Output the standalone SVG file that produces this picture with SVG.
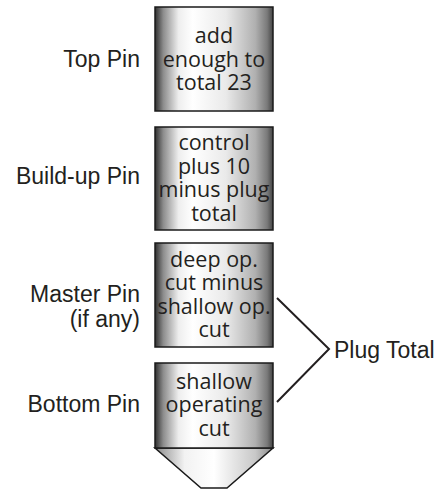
<svg xmlns="http://www.w3.org/2000/svg" width="440" height="489" viewBox="0 0 440 489">
<defs>
<linearGradient id="cyl" x1="0" y1="0" x2="1" y2="0">
<stop offset="0" stop-color="#2e2e2e"/>
<stop offset="0.07" stop-color="#8c8c8c"/>
<stop offset="0.2" stop-color="#eeeeee"/>
<stop offset="0.32" stop-color="#ffffff"/>
<stop offset="0.6" stop-color="#eaeaea"/>
<stop offset="0.85" stop-color="#b0b0b0"/>
<stop offset="0.95" stop-color="#7a7a7a"/>
<stop offset="1" stop-color="#444444"/>
</linearGradient>
<linearGradient id="cone" x1="0" y1="0" x2="1" y2="0">
<stop offset="0" stop-color="#8a8a8a"/>
<stop offset="0.25" stop-color="#f2f2f2"/>
<stop offset="0.5" stop-color="#ffffff"/>
<stop offset="0.85" stop-color="#c8c8c8"/>
<stop offset="1" stop-color="#8a8a8a"/>
</linearGradient>
</defs>
<style>
.pin{fill:url(#cyl);stroke:#1a1a1a;stroke-width:1.5}
.bt{font-family:"Open Sans","Noto Sans",sans-serif;font-size:21.5px;fill:#231f20;text-anchor:middle}
.lb{font-family:"Liberation Sans",Arial,sans-serif;font-size:23px;fill:#231f20;text-anchor:end}
.ln{stroke:#231f20;stroke-width:2;fill:none}
</style>
<g id="top-pin">
<rect class="pin" x="155" y="7" width="118" height="104"/>
<text class="bt" x="214" y="43">add</text>
<text class="bt" x="214" y="66.5">enough to</text>
<text class="bt" x="214" y="90">total 23</text>
<text class="lb" x="140" y="66.7">Top Pin</text>
</g>
<g id="buildup-pin">
<rect class="pin" x="155" y="127" width="118" height="103"/>
<text class="bt" x="214" y="150">control</text>
<text class="bt" x="214" y="173.5">plus 10</text>
<text class="bt" x="214" y="197">minus plug</text>
<text class="bt" x="214" y="220.5">total</text>
<text class="lb" x="140" y="184">Build-up Pin</text>
</g>
<g id="master-pin">
<rect class="pin" x="155" y="243" width="118" height="104"/>
<text class="bt" x="214" y="266.5">deep op.</text>
<text class="bt" x="214" y="290">cut minus</text>
<text class="bt" x="214" y="313.5">shallow op.</text>
<text class="bt" x="214" y="337">cut</text>
<text class="lb" x="140" y="302">Master Pin</text>
<text class="lb" x="140" y="326.5">(if any)</text>
</g>
<g id="bottom-pin">
<polygon points="155,448 273,448 227,488 201,488" fill="url(#cone)" stroke="#1a1a1a" stroke-width="1.5"/>
<rect class="pin" x="155" y="363" width="118" height="85"/>
<text class="bt" x="214" y="388.5">shallow</text>
<text class="bt" x="214" y="412">operating</text>
<text class="bt" x="214" y="435.5">cut</text>
<text class="lb" x="140" y="412">Bottom Pin</text>
</g>
<g id="plug-total">
<text font-family="'Liberation Sans',Arial,sans-serif" font-size="23" fill="#231f20" x="334" y="358">Plug Total</text>
</g>
<g id="connectors">
<polyline class="ln" points="277,298 329,349 277,402"/>
</g>
</svg>
